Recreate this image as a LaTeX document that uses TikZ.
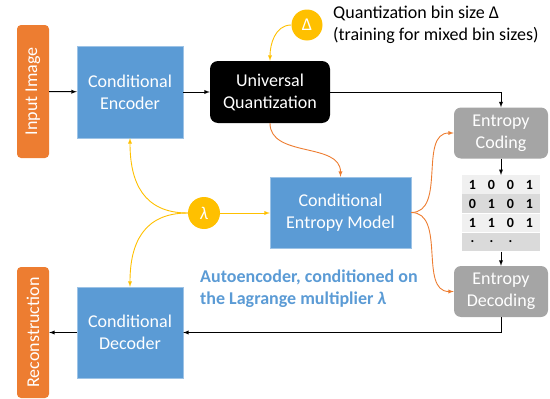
\documentclass[tikz,border=0pt]{standalone}
\usepackage{fontspec}
\setmainfont{Carlito}
\usetikzlibrary{positioning,shapes,arrows,calc}

\definecolor{boxblue}{HTML}{5B9BD5}
\definecolor{boxorange}{HTML}{ED7D31}
\definecolor{boxgray}{HTML}{A5A5A5}
\definecolor{dotyellow}{HTML}{FFC000}
\definecolor{rowlight}{HTML}{F0F0F0}
\definecolor{rowdark}{HTML}{DADADA}

\newcommand{\bitrow}[4]{\makebox[19pt]{#1}\makebox[19pt]{#2}\makebox[19pt]{#3}\makebox[19pt]{#4}}

\begin{document}
\begin{tikzpicture}[
  x=1pt, y=1pt, >=latex,
  every node/.style={font=\fontsize{18}{22}\selectfont, align=center, text=white, inner sep=0pt},
  side/.style={fill=boxorange, rounded corners=4pt, minimum height=32pt, rotate=90},
  block/.style={fill=boxblue, draw=boxblue!60!white, line width=0.4pt},
  coder/.style={fill=boxgray, rounded corners=7pt, minimum width=94pt, minimum height=51pt},
  knob/.style={circle, fill=dotyellow, minimum size=31pt},
  bits/.style={minimum width=78pt, minimum height=18.75pt, text=black, font=\fontsize{14}{16}\selectfont\bfseries},
  flow/.style={draw, ->, line width=0.9pt},
  ctrl/.style={draw=dotyellow, ->, line width=0.9pt},
  prob/.style={draw=boxorange, ->, line width=0.9pt}
]
  \useasboundingbox (0,0) rectangle (550,-399);

  % Encoder side
  \node (inp) [side, minimum width=133pt] at (33,-91.5) {Input Image};
  \node (enc) [block, minimum width=106pt, minimum height=92pt] at (130,-92) {Conditional\\Encoder};
  \node (uq) [fill=black, rounded corners=8pt, minimum width=120pt, minimum height=62pt] at (270,-92) {Universal\\Quantization};
  \node (delta) [knob] at (307,-25) {Δ};
  \node (binsize) [anchor=west, align=left, text=black] at (333,-25) {Quantization bin size Δ\\(training for mixed bin sizes)};

  % Entropy model and coding
  \node (cem) [block, minimum width=141pt, minimum height=71pt] at (340.5,-212.5) {Conditional\\Entropy Model};
  \node (lam) [knob, minimum size=32pt] at (204,-213) {\textit{λ}};
  \node (ec) [coder] at (501,-133) {Entropy\\Coding};
  \node (row1) [bits, fill=rowlight, anchor=north] at (501,-175) {\bitrow{1}{0}{0}{1}};
  \node (row2) [bits, fill=rowdark, below=0pt of row1] {\bitrow{0}{1}{0}{1}};
  \node (row3) [bits, fill=rowlight, below=0pt of row2] {\bitrow{1}{1}{0}{1}};
  \node (row4) [bits, fill=rowdark, below=0pt of row3] {\bitrow{.}{.}{.}{}};
  \node (ed) [coder] at (501,-291.5) {Entropy\\Decoding};

  % Decoder side
  \node (dec) [block, minimum width=106pt, minimum height=91pt] at (130,-332.5) {Conditional\\Decoder};
  \node (rec) [side, minimum width=131pt] at (33,-332.5) {Reconstruction};
  \node (caption) [anchor=west, align=left, text=boxblue, font=\fontsize{18}{22}\selectfont\bfseries] at (200,-289) {Autoencoder, conditioned on\\the Lagrange multiplier \textit{λ}};

  % Main data path
  \path[flow] (inp) -- (enc);
  \path[flow] (enc) -- (uq);
  \path[flow] (uq.east) -| (ec.north);
  \path[flow] (ec.south) -- (row1.north);
  \path[flow] (row4.south) -- (ed.north);
  \path[flow] (ed.south) |- (dec.east);
  \path[flow] (dec.west) -- (rec.south);

  % Conditioning
  \path[ctrl] (delta.west) to[out=180, in=90] (uq.north);
  \path[ctrl] (lam.west) to[out=180, in=-90, looseness=1.2] (enc.south);
  \path[ctrl] (lam.west) to[out=180, in=90, looseness=1.2] (dec.north);
  \path[ctrl] (lam.east) -- (cem.west |- lam.east);

  % Probabilities
  \path[prob] (uq.south) to[out=-90, in=90] (cem.north);
  \path[prob] (cem.east) to[out=0, in=180] (ec.west);
  \path[prob] (cem.east) to[out=0, in=180] (ed.west);
\end{tikzpicture}
\end{document}
